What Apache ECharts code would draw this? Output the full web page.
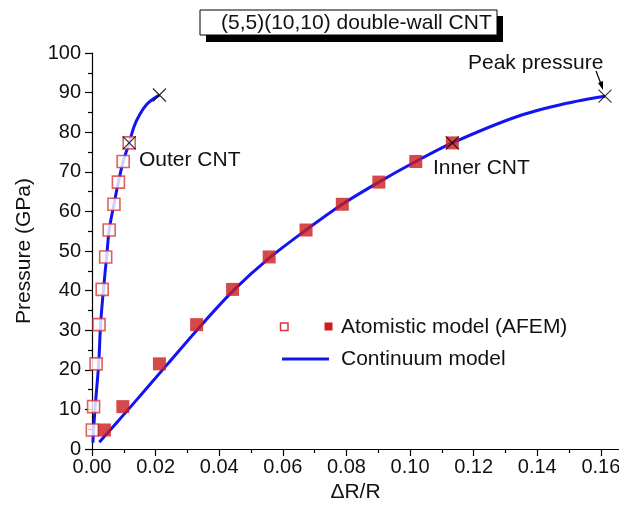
<!DOCTYPE html>
<html>
<head>
<meta charset="utf-8">
<script src="https://cdn.jsdelivr.net/npm/echarts@6/dist/echarts.min.js"></script>
<style>
html,body{margin:0;padding:0;background:#fff;}
#chart{width:619px;height:516px;}
</style>
</head>
<body>
<div id="chart"></div>
<script>
// ---- data ----
const pressure    = [4.8, 10.7, 21.5, 31.4, 40.3, 48.5, 55.3, 61.8, 67.4, 72.6, 77.3];
const outerStrain = [0.0001, 0.0005, 0.0013, 0.0022, 0.0032, 0.0043, 0.0054, 0.0069, 0.0083, 0.0098, 0.0117];
const innerStrain = [0.0039, 0.0097, 0.0212, 0.0329, 0.0442, 0.0557, 0.0673, 0.0787, 0.0902, 0.1018, 0.1133];

const outerCurveX = [0.0003, 0.0005, 0.0010, 0.0021, 0.0027, 0.0036, 0.0046, 0.0054, 0.0069, 0.0083, 0.0098, 0.0117, 0.0132, 0.0151, 0.0173, 0.0192, 0.0212];
const outerCurveP = [1.6, 4.8, 10.7, 21.5, 31.4, 40.3, 48.5, 55.3, 61.8, 67.4, 72.6, 77.3, 81.4, 84.6, 87.1, 88.4, 89.4];
const innerCurveX = [0.0023, 0.0057, 0.0122, 0.0238, 0.0345, 0.0448, 0.0557, 0.0673, 0.0787, 0.0902, 0.1018, 0.1133, 0.1335, 0.1492, 0.1613];
const innerCurveP = [1.7, 4.8, 10.7, 21.5, 31.4, 40.3, 48.2, 55.3, 61.8, 67.4, 72.6, 77.3, 83.9, 87.3, 89.1];

const crossX = [0.0117, 0.0212, 0.1133, 0.1613];
const crossP = [77.3, 89.4, 77.3, 89.1];

const xTickValues = [0, 0.02, 0.04, 0.06, 0.08, 0.10, 0.12, 0.14, 0.16];
const xMinorValues = [0.01, 0.03, 0.05, 0.07, 0.09, 0.11, 0.13, 0.15];

const titleText = '(5,5)(10,10) double-wall CNT';
const xName = '\u0394R/R';
const yName = 'Pressure (GPa)';
const legendAtom = 'Atomistic model (AFEM)';
const legendCont = 'Continuum model';

// ---- chart ----
const FONT = "'Liberation Sans', Arial, sans-serif";
const zip = (xs, ys) => xs.map((x, i) => [x, ys[i]]);
const RED = '#cc1c1c';
const BLUE = '#1414f2';

const chart = echarts.init(document.getElementById('chart'), null, {renderer: 'canvas'});

const option = {
  animation: false,
  backgroundColor: '#fff',
  grid: {left: 92, right: 0, top: 53, bottom: 67, containLabel: false, outerBoundsMode: 'none'},
  xAxis: [{
    type: 'value', min: 0, max: 0.1657, interval: 0.02,
    name: xName, nameLocation: 'middle', nameGap: 31,
    nameTextStyle: {fontFamily: FONT, fontSize: 21, color: '#111'},
    axisLine: {show: true, onZero: false, lineStyle: {color: '#000', width: 1.2}},
    axisTick: {show: true, length: 7, lineStyle: {color: '#000', width: 1.2},
      customValues: xTickValues},
    axisLabel: {show: true, margin: 8, fontFamily: FONT, fontSize: 20, color: '#111',
      customValues: xTickValues,
      formatter: v => v.toFixed(2)},
    splitLine: {show: false}
  }, {
    type: 'value', min: 0, max: 0.1657, position: 'bottom', gridIndex: 0,
    axisLine: {show: false},
    axisTick: {show: true, length: 4, lineStyle: {color: '#000', width: 1.2},
      customValues: xMinorValues},
    axisLabel: {show: false},
    splitLine: {show: false}
  }],
  yAxis: {
    type: 'value', min: 0, max: 100, interval: 10,
    name: yName, nameLocation: 'middle', nameGap: 57, nameRotate: 90,
    nameTextStyle: {fontFamily: FONT, fontSize: 21, color: '#111'},
    axisLine: {show: true, onZero: false, lineStyle: {color: '#000', width: 1.2}},
    axisTick: {show: true, length: 7, lineStyle: {color: '#000', width: 1.2}},
    minorTick: {show: true, splitNumber: 2, length: 4, lineStyle: {color: '#000', width: 1.2}},
    axisLabel: {margin: 11, fontFamily: FONT, fontSize: 20, color: '#111'},
    splitLine: {show: false}
  },
  series: [
    {
      name: 'Continuum outer', type: 'line', xAxisIndex: 0,
      data: zip(outerCurveX, outerCurveP), smooth: 0.3, showSymbol: false,
      lineStyle: {color: BLUE, width: 3}, z: 2
    },
    {
      name: 'Continuum inner', type: 'line', xAxisIndex: 0,
      data: zip(innerCurveX, innerCurveP), smooth: 0.3, showSymbol: false,
      lineStyle: {color: BLUE, width: 3}, z: 2
    },
    {
      name: 'Outer CNT (AFEM)', type: 'scatter', xAxisIndex: 0,
      data: zip(outerStrain, pressure), symbol: 'rect', symbolSize: 12,
      itemStyle: {color: '#fff', borderColor: '#d63a3a', borderWidth: 1.6}, z: 3
    },
    {
      name: 'Inner CNT (AFEM)', type: 'scatter', xAxisIndex: 0,
      data: zip(innerStrain, pressure), symbol: 'rect', symbolSize: 13,
      itemStyle: {color: RED}, z: 3
    },
    {
      name: 'Peak', type: 'scatter', xAxisIndex: 0,
      data: zip(crossX, crossP), symbol: 'path://M0,0L10,10M10,0L0,10', symbolSize: 13,
      itemStyle: {color: 'none', borderColor: '#000', borderWidth: 1.2}, z: 4
    }
  ],
  graphic: [
    // title box with shadow
    {type: 'rect', shape: {x: 206, y: 16, width: 297, height: 26}, style: {fill: '#000'}, z: 10},
    {type: 'rect', shape: {x: 200, y: 10, width: 297, height: 25}, style: {fill: '#fff', stroke: '#000', lineWidth: 1}, z: 11},
    {type: 'text', x: 221, y: 23, style: {text: titleText, font: '21px ' + FONT, fill: '#111', verticalAlign: 'middle'}, z: 12},
    // annotations
    {type: 'text', x: 139, y: 160, style: {text: 'Outer CNT', font: '21px ' + FONT, fill: '#111', verticalAlign: 'middle'}, z: 10},
    {type: 'text', x: 433, y: 168, style: {text: 'Inner CNT', font: '21px ' + FONT, fill: '#111', verticalAlign: 'middle'}, z: 10},
    {type: 'text', x: 468, y: 63, style: {text: 'Peak pressure', font: '21px ' + FONT, fill: '#111', verticalAlign: 'middle'}, z: 10},
    {type: 'line', shape: {x1: 596, y1: 71, x2: 601, y2: 84}, style: {stroke: '#000', lineWidth: 1.2}, z: 10},
    {type: 'polygon', shape: {points: [[598, 83], [603, 81], [603, 90]]}, style: {fill: '#000'}, z: 10},
    // legend
    {type: 'rect', shape: {x: 280.5, y: 323, width: 7.5, height: 7.5}, style: {fill: '#fff', stroke: '#d63a3a', lineWidth: 1.5}, z: 10},
    {type: 'rect', shape: {x: 324.5, y: 322.5, width: 8, height: 8}, style: {fill: RED}, z: 10},
    {type: 'text', x: 341, y: 327, style: {text: legendAtom, font: '21px ' + FONT, fill: '#111', verticalAlign: 'middle'}, z: 10},
    {type: 'line', shape: {x1: 282, y1: 359, x2: 329, y2: 359}, style: {stroke: BLUE, lineWidth: 3}, z: 10},
    {type: 'text', x: 341, y: 359, style: {text: legendCont, font: '21px ' + FONT, fill: '#111', verticalAlign: 'middle'}, z: 10}
  ]
};
chart.setOption(option);
</script>
</body>
</html>
